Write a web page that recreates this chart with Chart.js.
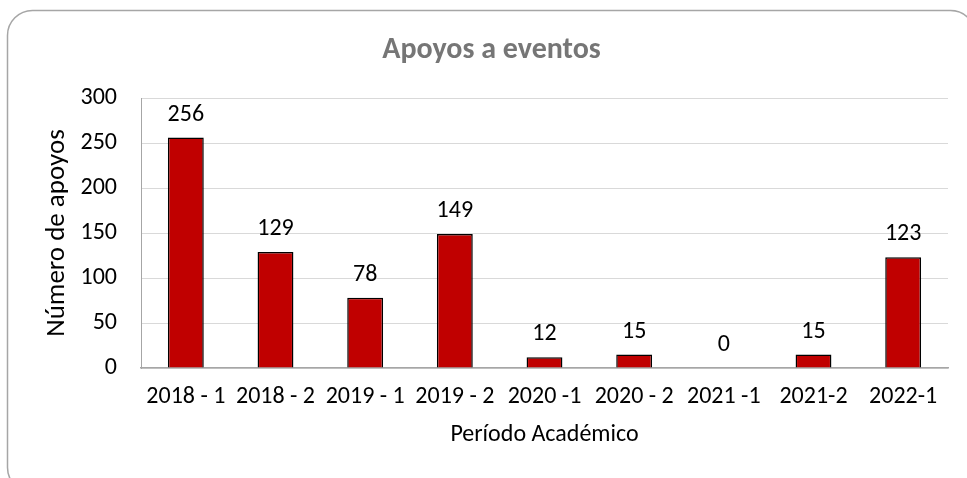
<!DOCTYPE html>
<html>
<head>
<meta charset="utf-8">
<script src="https://cdn.jsdelivr.net/npm/chart.js@4/dist/chart.umd.min.js"></script>
<style>
  html, body { margin: 0; padding: 0; background: #ffffff; }
  #wrap { width: 967px; height: 478px; position: relative; }
</style>
</head>
<body>
<div id="wrap"><canvas id="c" width="967" height="478"></canvas></div>
<script>
const periodos = ['2018 - 1', '2018 - 2', '2019 - 1', '2019 - 2', '2020 -1', '2020 - 2', '2021 -1', '2021-2', '2022-1'];
const apoyos = [256, 129, 78, 149, 12, 15, 0, 15, 123];
const tituloGrafico = 'Apoyos a eventos';
const tituloEjeX = 'Período Académico';
const tituloEjeY = 'Número de apoyos';

const FONT = "Carlito, Calibri, 'Open Sans', sans-serif";

// Frame geometry (runs past the right and bottom edges of the canvas)
const MARCO = { x: 7.5, y: 10.5, w: 968, h: 482, r: 25 };

// Rounded outer frame behind the chart
const marco = {
  id: 'marco',
  beforeDraw(chart) {
    const ctx = chart.ctx;
    const { x, y, w, h, r } = MARCO;
    ctx.save();
    ctx.fillStyle = '#ffffff';
    ctx.fillRect(0, 0, chart.width, chart.height);
    ctx.strokeStyle = '#a6a6a6';
    ctx.lineWidth = 1.5;
    ctx.beginPath();
    ctx.moveTo(x + r, y);
    ctx.lineTo(x + w - r, y);
    ctx.arcTo(x + w, y, x + w, y + r, r);
    ctx.lineTo(x + w, y + h - r);
    ctx.arcTo(x + w, y + h, x + w - r, y + h, r);
    ctx.lineTo(x + r, y + h);
    ctx.arcTo(x, y + h, x, y + h - r, r);
    ctx.lineTo(x, y + r);
    ctx.arcTo(x, y, x + r, y, r);
    ctx.closePath();
    ctx.stroke();

    // chart title, centred on the frame
    ctx.font = "bold 30px " + FONT;
    ctx.fillStyle = '#767676';
    ctx.textAlign = 'center';
    ctx.textBaseline = 'middle';
    ctx.fillText(tituloGrafico, x + w / 2, 50);
    ctx.restore();
  }
};

// Value labels above each bar
const etiquetas = {
  id: 'etiquetas',
  afterDatasetsDraw(chart) {
    const ctx = chart.ctx;
    const meta = chart.getDatasetMeta(0);
    ctx.save();
    ctx.font = "24px " + FONT;
    ctx.fillStyle = '#000000';
    ctx.textAlign = 'center';
    ctx.textBaseline = 'middle';
    meta.data.forEach((bar, i) => {
      ctx.fillText(String(apoyos[i]), bar.x, bar.y - 23);
    });
    ctx.restore();
  }
};

new Chart(document.getElementById('c'), {
  type: 'bar',
  data: {
    labels: periodos,
    datasets: [{
      data: apoyos,
      backgroundColor: '#c00000',
      borderColor: '#000000',
      borderWidth: 1.5,
      categoryPercentage: 1.0,
      barPercentage: 0.40
    }]
  },
  options: {
    responsive: false,
    animation: false,
    devicePixelRatio: 1,
    layout: { padding: { left: 0, right: 19, top: 98, bottom: 0 } },
    plugins: {
      legend: { display: false },
      tooltip: { enabled: false },
      title: { display: false }
    },
    scales: {
      x: {
        afterFit(scale) { scale.height = 110; },
        grid: { display: false, drawTicks: false },
        border: { display: true, color: '#a6a6a6', width: 1.5 },
        ticks: { color: '#000000', font: { family: FONT, size: 24 }, padding: 15, maxRotation: 0, autoSkip: false },
        title: { display: true, text: tituloEjeX, color: '#000000', font: { family: FONT, size: 24, lineHeight: 1.2 }, padding: { top: 0, bottom: 29 } }
      },
      y: {
        afterFit(scale) { scale.width = 141; },
        min: 0,
        max: 300,
        ticks: { stepSize: 50, color: '#000000', font: { family: FONT, size: 24 }, padding: 24 },
        grid: { color: '#d9d9d9', lineWidth: 1, drawTicks: false },
        border: { display: true, color: '#a6a6a6', width: 1 },
        title: { display: true, text: tituloEjeY, color: '#000000', font: { family: FONT, size: 27, lineHeight: 1.2 }, padding: { top: 41, bottom: 0 } }
      }
    }
  },
  plugins: [marco, etiquetas]
});
</script>
</body>
</html>
